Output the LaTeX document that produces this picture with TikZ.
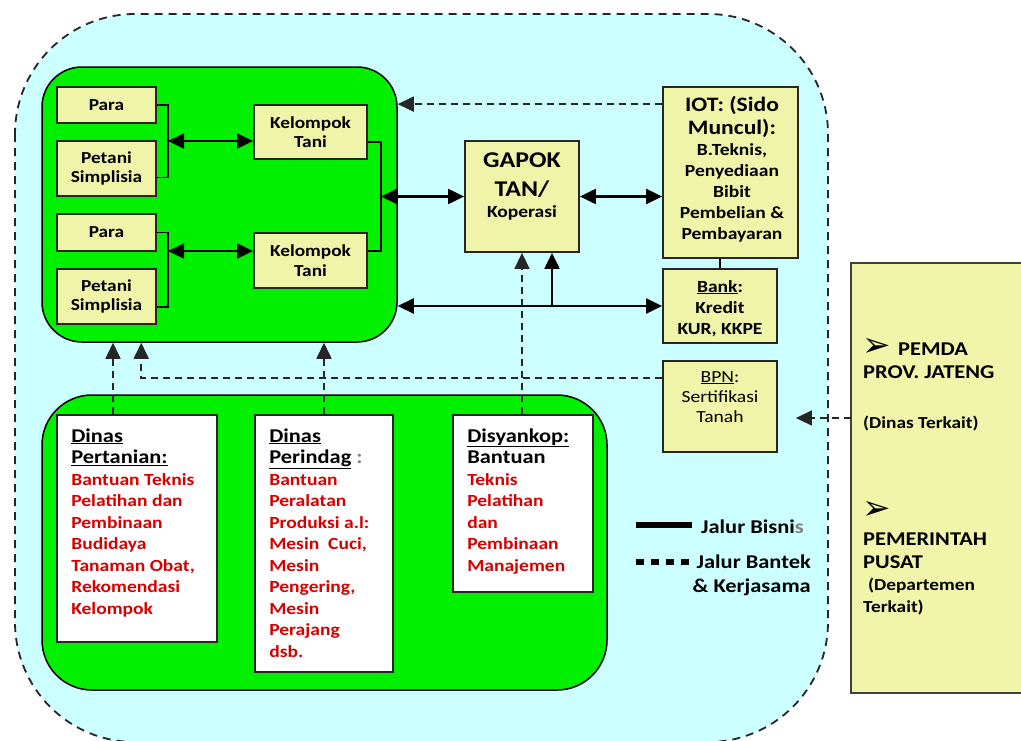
\documentclass[tikz,border=0pt]{standalone}
\usepackage{fontspec}
\setmainfont{Carlito}[FakeStretch=1.15]
\newfontfamily\symfont{DejaVu Sans}
\usetikzlibrary{arrows.meta,calc}
\definecolor{cyanbg}{RGB}{204,255,255}
\definecolor{greenbg}{RGB}{0,240,0}
\definecolor{boxyel}{RGB}{240,244,168}
\definecolor{panelyel}{RGB}{240,245,170}
\definecolor{redtxt}{RGB}{215,0,0}
\begin{document}
\begin{tikzpicture}[x=1pt,y=-1pt,
  ybox/.style={draw=black!85, line width=1.8pt, fill=boxyel, inner sep=0pt, font=\bfseries\fontsize{16.8}{19.5}\selectfont, align=center},
  wbox/.style={draw=black!85, line width=1.8pt, fill=white, inner sep=0pt},
  gbox/.style={draw=black, line width=1.5pt, fill=greenbg, inner sep=0pt},
  conn/.style={line width=2.2pt, draw=black},
  dconn/.style={line width=1.7pt, draw=black!85, dash pattern=on 7pt off 5pt},
  onehead/.style={-{Triangle[length=16pt,width=15pt]}},
  twohead/.style={{Triangle[length=16pt,width=15pt]}-{Triangle[length=16pt,width=15pt]}},
  lbl/.style={inner sep=0pt, font=\bfseries\fontsize{17}{21}\selectfont},
  big/.style={inner sep=0pt, anchor=base west, font=\bfseries\fontsize{19.5}{22}\selectfont},
  small/.style={inner sep=0pt, anchor=base west, font=\bfseries\fontsize{16.8}{20}\selectfont},
  symb/.style={inner sep=0pt, anchor=base west, font=\symfont\fontsize{34}{34}\selectfont},
]
\useasboundingbox (0,0) rectangle (1021,740);
\fill[white] (0,0) rectangle (1021,740);
% outer dashed region
\draw[line width=1.8pt, dash pattern=on 8pt off 6pt, draw=black!85, fill=cyanbg, rounded corners=120pt] (15,14) rectangle (828,742);
% right panel
\node[fill=panelyel, inner sep=0pt, minimum width=170pt, minimum height=430pt] (panel) at (936,478) {};
\draw[line width=1.5pt, black!75] (panel.north east) -- (panel.north west) -- (panel.south west) -- (panel.south east);
% green containers
\node[gbox, rounded corners=40pt, minimum width=355pt, minimum height=275pt] (topG) at (219.5,204.5) {};
\node[gbox, rounded corners=50pt, minimum width=565pt, minimum height=295pt] (botG) at (324.5,542.5) {};
% boxes
\node[ybox, minimum width=99pt, minimum height=36pt] (para1) at (106.5,105) {Para};
\node[ybox, minimum width=99pt, minimum height=55pt] (pet1) at (106.5,168.5) {Petani\\Simplisia};
\node[ybox, minimum width=99pt, minimum height=37pt] (para2) at (106.5,232.5) {Para};
\node[ybox, minimum width=99pt, minimum height=55pt] (pet2) at (106.5,296.5) {Petani\\Simplisia};
\node[ybox, minimum width=113pt, minimum height=54pt] (kt1) at (310.5,132) {Kelompok\\Tani};
\node[ybox, minimum width=113pt, minimum height=55pt] (kt2) at (310.5,260.5) {Kelompok\\Tani};
\node[ybox, minimum width=114pt, minimum height=111pt] (gapok) at (522,196.5) {};
\node[ybox, minimum width=135pt, minimum height=171pt] (iot) at (730.5,172.5) {};
\node[ybox, minimum width=114pt, minimum height=74pt] (bank) at (720,306) {};
\node[ybox, minimum width=114pt, minimum height=91pt] (bpn) at (720,406.5) {};
% connectors
\coordinate (bk1) at (168,141);
\draw[line width=1.8pt] (para1.east) -| (bk1) |- ($(pet1.east)+(0,9)$);
\draw[conn, twohead] (bk1) -- (bk1 -| kt1.west);
\coordinate (bk2) at (168,251);
\draw[line width=1.8pt] (para2.east) -| (bk2) |- ($(pet2.east)+(0,10.5)$);
\draw[conn, twohead] (bk2) -- (bk2 -| kt2.west);
\coordinate (bk3) at (381,196.5);
\draw[line width=1.8pt] ($(kt1.east)+(0,10)$) -| (bk3) |- ($(kt2.east)+(0,-9.5)$);
\draw[conn, twohead] (bk3) -- (bk3 -| gapok.west);
\draw[conn, twohead] (gapok.east) -- (gapok.east -| iot.west);
\draw[line width=1.8pt] (bank.north) -- (bank.north |- iot.south);
\draw[conn, twohead] (bank.west -| topG.east) -- (bank.west);
\coordinate (gb) at ($(gapok.south)+(30,0)$);
\draw[conn, onehead] (gb |- bank.west) -- (gb);
\coordinate (iotL) at ($(iot.north west)+(0,18)$);
\draw[dconn, onehead] (iotL) -- (iotL -| topG.east);
\coordinate (bpnL) at ($(bpn.north west)+(0,18)$);
\coordinate (bpnUp) at ($(topG.south west)+(100,0)$);
\draw[dconn, onehead] (bpnL) -| (bpnUp);
\coordinate (pn) at ($(panel.west)+(0,-60)$);
\coordinate (pnTip) at ($(bpn.east)+(18,11.5)$);
\draw[dconn, onehead] (pn) -- (pnTip);
% bottom boxes
\node[wbox, minimum width=160pt, minimum height=227pt] (pert) at (137,528.5) {};
\node[wbox, minimum width=138pt, minimum height=257pt] (perin) at (324,543.5) {};
\node[wbox, minimum width=140pt, minimum height=177pt] (disy) at (523,503.5) {};
\coordinate (pa) at ($(pert.north)+(-24,0)$);
\draw[dconn, onehead] (pa) -- (pa |- topG.south);
\draw[dconn, onehead] (perin.north) -- (perin.north |- topG.south);
\draw[dconn, onehead] (gapok.south |- disy.north) -- (gapok.south);
% texts in boxes
\node[lbl, anchor=base] (gapokT) at ($(gapok.north)+(0,27)$) {\parbox[t]{110pt}{\centering\fontsize{22.5}{29}\selectfont GAPOK\\TAN/\\[-8pt]{\fontsize{17}{21}\selectfont Koperasi}}};
\node[lbl, anchor=base] (iotT) at ($(iot.north)+(1.5,25)$) {\parbox[t]{135pt}{\centering\fontsize{17}{21}\selectfont{\fontsize{20.5}{21}\selectfont IOT: (Sido\\[2pt]Muncul):}\\B.Teknis,\\Penyediaan\\Bibit\\Pembelian \&\\Pembayaran}};
\node[lbl, anchor=base] (bankT) at ($(bank.north)+(0,24)$) {\parbox[t]{114pt}{\centering\fontsize{17}{21}\selectfont\underline{Bank}:\\Kredit\\KUR, KKPE}};
\node[inner sep=0pt, anchor=base, font=\fontsize{17}{20}\selectfont] (bpnT) at ($(bpn.north)+(0,22)$) {\parbox[t]{114pt}{\centering\underline{BPN}:\\Sertifikasi\\Tanah}};
\node[lbl, anchor=base west] (pertT) at ($(pert.north west)+(15,28)$) {\parbox[t]{150pt}{\raggedright\fontsize{17}{21.5}\selectfont{\fontsize{19.5}{21.5}\selectfont\underline{Dinas}\\\underline{Pertanian:}}\\\color{redtxt}Bantuan Teknis\\Pelatihan dan\\Pembinaan\\Budidaya\\Tanaman Obat,\\Rekomendasi\\Kelompok}};
\node[lbl, anchor=base west] (perinT) at ($(perin.north west)+(15,28)$) {\parbox[t]{130pt}{\raggedright\fontsize{17}{21.5}\selectfont{\fontsize{19.5}{21.5}\selectfont\underline{Dinas}\\\underline{Perindag} {\color{gray}:}}\\\color{redtxt}Bantuan\\Peralatan\\Produksi a.l:\\Mesin\ \ Cuci,\\Mesin\\Pengering,\\Mesin\\Perajang\\dsb.}};
\node[lbl, anchor=base west] (disyT) at ($(disy.north west)+(15,28)$) {\parbox[t]{130pt}{\raggedright\fontsize{17}{21.5}\selectfont{\fontsize{19.5}{21.5}\selectfont\underline{Disyankop:}\\Bantuan}\\\color{redtxt}Teknis\\Pelatihan\\dan\\Pembinaan\\Manajemen}};
% right panel text
\node[symb] (ar1) at (862,356) {➢};
\node[big] (pemdaA) at (898,355) {PEMDA};
\node[big] (pemdaB) at (863,378) {PROV. JATENG};
\node[small] (pemdaC) at (863,428) {(Dinas Terkait)};
\node[symb] (ar2) at (862,519) {➢};
\node[big] (pusatA) at (863,545) {PEMERINTAH};
\node[big] (pusatB) at (863,568) {PUSAT};
\node[small] (pusatC) at (868,590) {(Departemen};
\node[small] (pusatD) at (863,612) {Terkait)};
% legend
\coordinate (lgA) at (636,525);
\coordinate (lgB) at (692,525);
\coordinate (lgC) at (636,562);
\coordinate (lgD) at (692,562);
\draw[line width=6.5pt] (lgA) -- (lgB);
\draw[line width=6.5pt, dash pattern=on 8pt off 7pt] (lgC) -- (lgD);
\node[big] (lg1) at (701,533) {Jalur Bisni{\color{gray}s}};
\node[big, anchor=base east] (lg2) at (811,568) {Jalur Bantek};
\node[big, anchor=base east] (lg3) at (811,592) {\& Kerjasama};
\end{tikzpicture}
\end{document}
